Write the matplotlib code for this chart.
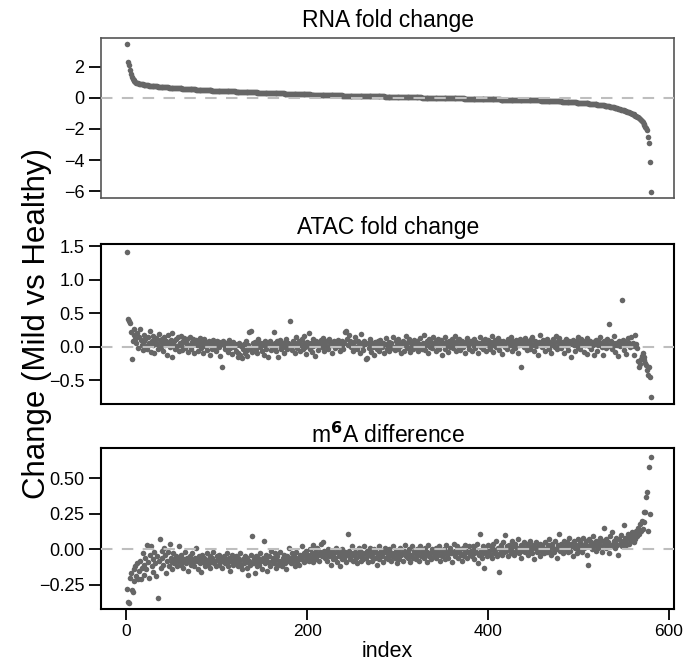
import numpy as np
import matplotlib.pyplot as plt

# RNA fold change, sorted (index 1..580)
rna = [
    3.44, 2.29, 2.12, 1.80, 1.50, 1.32, 1.21, 1.13, 1.07, 1.02, 0.98, 0.95, 0.93, 0.91, 0.89, 0.88, 0.87, 0.86, 0.85, 0.84,
    0.83, 0.82, 0.81, 0.80, 0.79, 0.79, 0.78, 0.77, 0.76, 0.76, 0.75, 0.74, 0.74, 0.73, 0.72, 0.72, 0.71, 0.71, 0.70, 0.70,
    0.69, 0.69, 0.68, 0.68, 0.67, 0.67, 0.66, 0.66, 0.65, 0.65, 0.64, 0.64, 0.63, 0.63, 0.62, 0.62, 0.62, 0.61, 0.61, 0.60,
    0.60, 0.59, 0.59, 0.58, 0.58, 0.58, 0.57, 0.57, 0.56, 0.56, 0.56, 0.55, 0.55, 0.54, 0.54, 0.54, 0.53, 0.53, 0.53, 0.52,
    0.52, 0.52, 0.51, 0.51, 0.51, 0.50, 0.50, 0.50, 0.49, 0.49, 0.49, 0.48, 0.48, 0.48, 0.47, 0.47, 0.47, 0.46, 0.46, 0.46,
    0.46, 0.45, 0.45, 0.45, 0.45, 0.44, 0.44, 0.44, 0.43, 0.43, 0.43, 0.43, 0.42, 0.42, 0.42, 0.42, 0.41, 0.41, 0.41, 0.41,
    0.40, 0.40, 0.40, 0.40, 0.39, 0.39, 0.39, 0.39, 0.38, 0.38, 0.38, 0.38, 0.37, 0.37, 0.37, 0.37, 0.36, 0.36, 0.36, 0.36,
    0.35, 0.35, 0.35, 0.35, 0.34, 0.34, 0.34, 0.34, 0.33, 0.33, 0.33, 0.33, 0.32, 0.32, 0.32, 0.32, 0.31, 0.31, 0.31, 0.31,
    0.30, 0.30, 0.30, 0.30, 0.30, 0.29, 0.29, 0.29, 0.29, 0.28, 0.28, 0.28, 0.28, 0.28, 0.27, 0.27, 0.27, 0.27, 0.26, 0.26,
    0.26, 0.26, 0.26, 0.25, 0.25, 0.25, 0.25, 0.25, 0.24, 0.24, 0.24, 0.24, 0.24, 0.23, 0.23, 0.23, 0.23, 0.23, 0.22, 0.22,
    0.22, 0.22, 0.22, 0.21, 0.21, 0.21, 0.21, 0.21, 0.20, 0.20, 0.20, 0.20, 0.20, 0.19, 0.19, 0.19, 0.19, 0.19, 0.18, 0.18,
    0.18, 0.18, 0.18, 0.17, 0.17, 0.17, 0.17, 0.17, 0.16, 0.16, 0.16, 0.16, 0.16, 0.15, 0.15, 0.15, 0.15, 0.15, 0.14, 0.14,
    0.14, 0.14, 0.14, 0.13, 0.13, 0.13, 0.13, 0.13, 0.12, 0.12, 0.12, 0.12, 0.12, 0.12, 0.11, 0.11, 0.11, 0.11, 0.11, 0.11,
    0.11, 0.11, 0.11, 0.11, 0.10, 0.10, 0.10, 0.10, 0.10, 0.10, 0.10, 0.10, 0.10, 0.10, 0.10, 0.10, 0.09, 0.09, 0.09, 0.09,
    0.09, 0.09, 0.09, 0.09, 0.09, 0.08, 0.08, 0.08, 0.08, 0.08, 0.08, 0.08, 0.07, 0.07, 0.07, 0.07, 0.07, 0.07, 0.07, 0.06,
    0.06, 0.06, 0.06, 0.06, 0.06, 0.06, 0.05, 0.05, 0.05, 0.05, 0.05, 0.05, 0.05, 0.04, 0.04, 0.04, 0.04, 0.04, 0.04, 0.04,
    0.03, 0.03, 0.03, 0.03, 0.03, 0.03, 0.02, 0.02, 0.02, 0.02, 0.02, 0.02, 0.02, 0.01, 0.01, 0.01, 0.01, 0.01, 0.01, 0.01,
    0.00, 0.00, 0.00, 0.00, 0.00, 0.00, -0.01, -0.01, -0.01, -0.01, -0.01, -0.01, -0.01, -0.02, -0.02, -0.02, -0.02, -0.02, -0.02, -0.02,
    -0.03, -0.03, -0.03, -0.03, -0.03, -0.03, -0.04, -0.04, -0.04, -0.04, -0.04, -0.04, -0.04, -0.05, -0.05, -0.05, -0.05, -0.05, -0.05, -0.05,
    -0.06, -0.06, -0.06, -0.06, -0.06, -0.06, -0.07, -0.07, -0.07, -0.07, -0.07, -0.07, -0.07, -0.08, -0.08, -0.08, -0.08, -0.08, -0.08, -0.08,
    -0.09, -0.09, -0.09, -0.09, -0.09, -0.09, -0.10, -0.10, -0.10, -0.10, -0.10, -0.10, -0.10, -0.11, -0.11, -0.11, -0.11, -0.11, -0.11, -0.11,
    -0.12, -0.12, -0.12, -0.12, -0.12, -0.12, -0.13, -0.13, -0.13, -0.13, -0.13, -0.13, -0.13, -0.14, -0.14, -0.14, -0.14, -0.14, -0.14, -0.14,
    -0.15, -0.15, -0.15, -0.15, -0.15, -0.15, -0.16, -0.16, -0.16, -0.16, -0.16, -0.16, -0.17, -0.17, -0.17, -0.17, -0.17, -0.17, -0.18, -0.18,
    -0.18, -0.18, -0.18, -0.19, -0.19, -0.19, -0.19, -0.20, -0.20, -0.20, -0.20, -0.21, -0.21, -0.21, -0.21, -0.22, -0.22, -0.22, -0.23, -0.23,
    -0.23, -0.24, -0.24, -0.24, -0.25, -0.25, -0.25, -0.26, -0.26, -0.26, -0.27, -0.27, -0.28, -0.28, -0.28, -0.29, -0.29, -0.30, -0.30, -0.31,
    -0.31, -0.32, -0.32, -0.33, -0.33, -0.34, -0.34, -0.35, -0.35, -0.36, -0.36, -0.37, -0.38, -0.38, -0.39, -0.40, -0.40, -0.41, -0.42, -0.42,
    -0.43, -0.44, -0.45, -0.45, -0.46, -0.47, -0.48, -0.49, -0.50, -0.51, -0.52, -0.53, -0.54, -0.55, -0.56, -0.58, -0.59, -0.60, -0.62, -0.63,
    -0.65, -0.66, -0.68, -0.69, -0.71, -0.73, -0.75, -0.77, -0.79, -0.81, -0.83, -0.85, -0.87, -0.89, -0.91, -0.93, -0.95, -0.98, -1.01, -1.04,
    -1.07, -1.10, -1.14, -1.18, -1.22, -1.26, -1.31, -1.36, -1.42, -1.50, -1.58, -1.66, -1.75, -1.85, -1.92, -2.05, -2.50, -2.90, -4.15, -6.05,
]

# ATAC fold change, same gene order
atac = [
    1.42, 0.42, 0.38, 0.35, 0.22, -0.18, 0.08, 0.18, 0.27, 0.12, 0.05, 0.20, -0.02, 0.15, 0.26, 0.10, 0.03, -0.05, 0.17, 0.08,
    0.11, 0.01, -0.03, 0.14, 0.06, 0.23, -0.08, 0.09, 0.16, 0.02, -0.10, 0.07, 0.13, 0.04, -0.04, 0.19, 0.10, 0.00, 0.06, 0.12,
    -0.06, 0.15, 0.03, 0.09, -0.12, 0.17, 0.05, -0.01, 0.10, 0.20, -0.15, 0.04, 0.08, -0.03, 0.12, 0.01, 0.14, -0.07, 0.06, 0.16,
    0.02, -0.05, 0.09, 0.13, -0.02, 0.05, 0.11, -0.08, 0.03, 0.15, 0.00, -0.04, 0.07, 0.12, -0.10, 0.04, 0.10, 0.02, -0.06, 0.08,
    0.13, 0.03, -0.02, 0.06, -0.09, 0.11, 0.01, 0.07, -0.05, 0.04, 0.09, -0.12, 0.02, 0.06, -0.03, 0.10, 0.00, 0.05, -0.07, 0.08,
    0.03, -0.01, 0.07, -0.14, 0.04, -0.31, 0.09, 0.02, -0.04, 0.06, 0.01, -0.08, 0.05, 0.10, -0.02, 0.03, -0.11, 0.07, 0.00, 0.04,
    -0.06, 0.02, -0.15, -0.09, 0.06, -0.12, 0.01, -0.17, -0.03, 0.04, -0.10, 0.08, -0.05, -0.14, 0.03, 0.22, -0.02, 0.24, -0.08, 0.05,
    0.00, 0.07, -0.04, 0.02, -0.09, 0.11, 0.04, -0.01, 0.06, -0.06, 0.03, -0.13, 0.08, 0.01, -0.03, 0.05, -0.15, 0.02, 0.09, -0.05,
    0.04, -0.02, 0.22, 0.06, -0.07, 0.01, 0.08, -0.16, 0.03, 0.10, -0.04, 0.05, 0.00, -0.09, 0.07, 0.02, 0.12, -0.03, 0.06, 0.04,
    0.38, 0.01, -0.05, 0.08, 0.03, -0.10, 0.06, 0.14, -0.02, 0.04, 0.09, -0.07, 0.02, 0.11, -0.04, 0.05, 0.16, 0.00, -0.11, 0.07,
    0.03, 0.20, -0.03, 0.06, -0.08, 0.12, 0.01, 0.05, -0.14, 0.09, 0.02, -0.05, 0.07, 0.04, 0.10, -0.01, 0.06, 0.13, -0.06, 0.03,
    0.08, 0.00, -0.04, 0.11, 0.05, 0.02, -0.09, 0.07, 0.03, 0.09, -0.02, 0.06, 0.04, 0.10, 0.01, -0.07, 0.05, 0.08, 0.02, -0.03,
    0.06, 0.22, 0.24, 0.12, 0.03, 0.18, 0.09, -0.01, 0.05, 0.02, -0.06, 0.07, 0.14, 0.00, -0.04, 0.08, 0.03, -0.10, 0.19, 0.05,
    0.01, -0.05, 0.09, 0.04, -0.18, -0.17, 0.06, -0.02, 0.03, 0.11, -0.08, 0.05, 0.00, -0.12, 0.07, 0.02, -0.03, 0.09, 0.04, -0.06,
    0.10, 0.02, -0.01, 0.06, -0.09, 0.04, 0.13, -0.04, 0.01, 0.07, -0.07, 0.03, 0.05, -0.02, 0.14, 0.00, -0.05, 0.08, 0.02, 0.11,
    -0.03, 0.06, 0.01, -0.10, 0.04, 0.09, -0.06, 0.03, 0.16, 0.00, -0.02, 0.07, 0.12, -0.08, 0.05, 0.02, -0.04, 0.10, 0.03, 0.06,
    -0.01, 0.08, -0.07, 0.04, 0.13, 0.01, -0.03, 0.06, 0.18, -0.05, 0.02, 0.09, 0.04, -0.09, 0.11, 0.00, 0.07, -0.02, 0.15, 0.03,
    0.05, -0.06, 0.08, 0.01, 0.12, -0.03, 0.04, 0.10, -0.12, 0.06, 0.02, 0.14, -0.04, 0.07, 0.03, -0.08, 0.09, 0.00, 0.05, 0.11,
    -0.02, 0.06, 0.16, 0.03, -0.07, 0.08, 0.01, 0.12, -0.05, 0.04, 0.09, -0.01, 0.06, 0.02, -0.10, 0.07, 0.13, 0.03, -0.03, 0.05,
    0.09, -0.06, 0.04, 0.01, 0.11, -0.02, 0.07, 0.03, -0.09, 0.06, 0.14, 0.00, 0.05, -0.04, 0.08, 0.02, 0.12, -0.07, 0.04, 0.10,
    0.01, -0.03, 0.07, 0.16, 0.03, -0.08, 0.05, 0.10, -0.01, 0.04, 0.13, -0.05, 0.08, 0.02, 0.06, -0.11, 0.09, 0.03, 0.00, 0.07,
    -0.04, 0.11, 0.05, 0.02, 0.14, -0.06, 0.08, 0.01, 0.04, -0.02, 0.10, 0.06, -0.09, 0.03, 0.12, 0.07, -0.31, 0.05, 0.09, 0.00,
    0.13, 0.04, -0.05, 0.08, 0.02, 0.06, -0.03, 0.11, 0.15, 0.03, -0.07, 0.09, 0.01, 0.05, -0.12, 0.07, 0.18, 0.02, 0.06, -0.01,
    0.10, 0.04, -0.06, 0.08, 0.12, 0.01, -0.03, 0.07, 0.05, -0.09, 0.03, 0.11, 0.06, 0.00, 0.16, -0.04, 0.08, 0.02, 0.13, 0.05,
    -0.02, 0.07, 0.03, -0.10, 0.09, 0.12, 0.01, 0.05, -0.05, 0.08, 0.04, -0.15, 0.06, 0.10, 0.02, -0.07, 0.09, 0.03, 0.14, 0.00,
    0.06, -0.04, 0.11, 0.04, 0.08, -0.08, 0.02, 0.07, 0.13, -0.11, 0.05, 0.01, 0.09, -0.03, 0.06, 0.03, -0.13, 0.08, 0.04, 0.10,
    -0.06, 0.02, 0.07, 0.15, 0.05, 0.00, -0.12, 0.09, 0.04, -0.02, 0.06, 0.11, 0.03, 0.34, 0.01, 0.08, -0.04, 0.05, 0.16, 0.02,
    -0.08, 0.06, 0.03, -0.14, 0.09, 0.01, 0.05, 0.70, 0.10, -0.05, 0.07, 0.02, -0.11, 0.04, 0.13, 0.06, 0.00, 0.15, 0.03, 0.05,
    -0.13, 0.01, 0.18, 0.04, -0.02, -0.22, -0.30, -0.26, -0.18, -0.14, -0.10, -0.16, -0.20, -0.24, -0.28, -0.35, -0.42, -0.31, -0.45, -0.75,
]

# m6A difference, same gene order
m6a = [
    -0.28, -0.37, -0.38, -0.20, -0.17, -0.29, -0.30, -0.14, -0.22, -0.12, -0.19, -0.10, -0.21, -0.15, -0.08, -0.21, -0.13, -0.03, -0.18, -0.11,
    -0.06, -0.14, 0.03, -0.09, -0.20, -0.04, 0.02, -0.12, -0.07, -0.16, -0.02, -0.10, -0.19, -0.05, -0.34, -0.08, 0.07, -0.13, -0.01, -0.06,
    -0.11, 0.01, -0.04, -0.17, -0.08, -0.02, -0.12, 0.04, -0.06, -0.09, -0.14, -0.03, -0.10, -0.07, -0.05, -0.12, -0.08, 0.02, -0.06, -0.11,
    -0.04, -0.09, -0.13, -0.07, -0.02, -0.10, -0.06, -0.15, -0.08, -0.05, -0.11, -0.07, -0.03, -0.09, -0.12, -0.06, 0.01, -0.08, -0.14, -0.05,
    -0.10, -0.07, -0.16, -0.04, -0.09, -0.06, -0.12, -0.08, -0.03, -0.11, -0.07, -0.05, -0.13, -0.09, -0.06, -0.02, -0.10, -0.08, -0.12, -0.05,
    -0.07, -0.11, -0.04, -0.09, -0.06, -0.13, -0.08, -0.05, -0.10, -0.07, -0.03, -0.12, -0.09, -0.06, -0.15, -0.08, -0.04, -0.11, -0.07, -0.10,
    -0.05, -0.09, -0.12, -0.06, -0.08, -0.03, -0.11, -0.14, -0.07, -0.10, -0.05, -0.09, -0.13, -0.06, -0.18, -0.08, -0.11, -0.04, 0.09, -0.10,
    -0.07, -0.17, -0.05, -0.12, -0.09, -0.06, -0.11, -0.03, -0.08, -0.14, -0.06, 0.06, -0.10, -0.07, -0.04, -0.15, -0.09, -0.05, -0.12, -0.01,
    -0.08, -0.06, -0.10, -0.03, -0.13, -0.07, -0.05, -0.11, -0.08, -0.02, -0.09, -0.12, -0.06, -0.04, -0.10, -0.07, -0.14, -0.05, -0.08, 0.01,
    -0.06, -0.10, -0.03, -0.08, -0.05, -0.12, -0.07, -0.02, -0.09, -0.06, -0.11, -0.04, -0.07, 0.02, -0.05, -0.09, -0.03, -0.08, -0.01, -0.06,
    -0.04, -0.08, 0.00, -0.06, -0.03, -0.09, 0.03, -0.05, -0.02, -0.07, 0.01, -0.04, -0.08, -0.02, 0.04, -0.05, -0.03, 0.05, -0.01, -0.06,
    -0.03, -0.08, 0.00, -0.05, -0.02, -0.11, -0.04, -0.01, -0.07, -0.03, -0.06, 0.01, -0.09, -0.02, -0.05, -0.12, -0.03, -0.07, 0.00, -0.04,
    -0.06, -0.02, -0.09, -0.04, 0.11, -0.01, -0.07, -0.03, -0.05, 0.02, -0.08, -0.04, -0.02, -0.06, -0.10, -0.03, 0.01, -0.05, -0.08, -0.02,
    -0.04, -0.07, 0.02, -0.03, -0.06, -0.01, -0.09, -0.04, -0.02, 0.01, -0.05, -0.08, -0.03, 0.00, -0.06, -0.02, -0.11, -0.04, 0.02, -0.07,
    -0.03, -0.01, -0.05, -0.09, -0.02, 0.01, -0.06, -0.03, -0.07, 0.00, -0.04, -0.02, -0.08, -0.05, 0.02, -0.03, -0.06, -0.01, -0.10, -0.04,
    -0.02, -0.07, 0.01, -0.04, -0.03, -0.08, -0.01, 0.03, -0.05, -0.02, -0.06, -0.03, 0.00, -0.09, -0.04, 0.02, -0.06, -0.01, -0.03, -0.07,
    0.00, -0.04, -0.02, -0.08, 0.02, -0.05, -0.01, -0.03, -0.06, 0.01, -0.04, -0.09, -0.02, 0.03, -0.05, -0.03, -0.07, 0.00, -0.02, -0.05,
    -0.03, 0.01, -0.06, -0.02, -0.04, 0.02, -0.08, -0.01, -0.05, -0.03, 0.00, -0.07, -0.02, 0.03, -0.04, -0.06, -0.01, 0.01, -0.03, -0.09,
    -0.02, 0.04, -0.05, -0.01, -0.03, 0.02, -0.06, -0.02, 0.00, -0.04, -0.08, 0.01, -0.03, -0.05, 0.03, -0.01, -0.06, -0.02, 0.02, -0.04,
    -0.01, -0.05, 0.02, -0.03, -0.07, 0.00, -0.02, 0.04, -0.10, -0.04, 0.11, -0.01, -0.06, 0.02, -0.03, -0.13, 0.01, -0.02, -0.05, 0.03,
    -0.01, -0.04, 0.02, -0.06, 0.00, 0.04, -0.03, -0.02, 0.06, -0.05, 0.01, -0.16, -0.03, 0.03, 0.00, -0.04, 0.05, -0.02, 0.10, -0.01,
    0.02, -0.05, 0.03, 0.00, -0.03, 0.06, -0.01, 0.02, -0.04, 0.04, -0.02, 0.01, 0.07, -0.03, 0.00, 0.03, -0.06, 0.02, -0.01, 0.05,
    -0.02, 0.01, 0.04, -0.04, 0.02, -0.01, 0.06, 0.00, -0.03, 0.03, -0.07, 0.01, 0.05, -0.02, 0.02, 0.00, -0.05, 0.04, -0.01, 0.03,
    0.01, -0.03, 0.05, 0.00, -0.02, 0.03, 0.07, -0.01, 0.02, -0.04, 0.04, 0.01, -0.02, 0.06, 0.00, -0.06, 0.03, 0.02, 0.11, -0.01,
    0.04, 0.01, -0.03, 0.06, 0.02, 0.00, 0.05, -0.02, 0.03, 0.08, -0.01, 0.04, 0.02, -0.05, 0.06, 0.01, 0.03, -0.03, 0.07, 0.02,
    0.00, 0.05, 0.03, -0.02, 0.08, 0.01, 0.04, 0.06, -0.04, 0.02, -0.11, 0.07, 0.03, 0.05, 0.00, 0.09, 0.02, 0.04, -0.01, 0.06,
    0.03, 0.01, 0.05, 0.08, 0.02, -0.02, 0.06, 0.15, 0.04, 0.01, 0.07, 0.03, 0.05, -0.03, 0.09, 0.02, 0.12, 0.04, 0.06, 0.01,
    0.05, 0.08, 0.03, -0.04, 0.07, 0.04, 0.10, 0.02, 0.06, 0.17, 0.05, 0.08, 0.03, 0.07, 0.11, 0.04, 0.09, 0.06, 0.12, 0.08,
    0.05, 0.10, 0.07, 0.13, 0.09, 0.15, 0.11, 0.18, 0.13, 0.20, 0.14, 0.26, 0.19, 0.26, 0.37, 0.40, 0.13, 0.58, 0.25, 0.65,
]

titles = ['RNA fold change', 'ATAC fold change', r'm$^{\mathbf{6}}$A difference']
title_pads = [8, 7, 4]
ylims = [(-6.43, 3.83), (-0.855, 1.533), (-0.42, 0.711)]
yticks = [[-6, -4, -2, 0, 2], [-0.5, 0.0, 0.5, 1.0, 1.5], [-0.25, 0.0, 0.25, 0.5]]
yfmt = ['{:.0f}', '{:.1f}', '{:.2f}']
xticks = [0, 200, 400, 600]

plt.rcParams['font.family'] = ['Liberation Sans', 'DejaVu Sans']
plt.rcParams['axes.unicode_minus'] = False

fig = plt.figure(figsize=(6.89, 6.66), dpi=100)
boxes = [(0.1466, 0.7027, 0.8320, 0.2400),
         (0.1466, 0.3934, 0.8320, 0.2402),
         (0.1466, 0.0856, 0.8320, 0.2417)]

for k, vals in enumerate([rna, atac, m6a]):
    ax = fig.add_axes(boxes[k])
    idx = np.arange(1, len(vals) + 1)
    ax.scatter(idx, vals, s=16, c='#666666', linewidths=0, zorder=2)
    ax.axhline(0, color='#bebebe', lw=1.5, dashes=(5.5, 4.5), zorder=3)
    ax.set_xlim(-28, 606)
    ax.set_ylim(*ylims[k])
    ax.set_yticks(yticks[k])
    ax.set_yticklabels([yfmt[k].format(v).replace('-', '\u2212') for v in yticks[k]])
    ax.set_title(titles[k], fontsize=16.5, pad=title_pads[k])
    ax.tick_params(axis='y', length=9, width=1.3, labelsize=13, pad=3)
    if k == 2:
        ax.set_xticks(xticks)
        ax.tick_params(axis='x', length=8, width=1.3, labelsize=12.5, pad=3)
        ax.set_xlabel('index', fontsize=15.5, labelpad=1)
    else:
        ax.set_xticks([])
    for sp in ax.spines.values():
        if k == 0:
            sp.set_color('#555555')
            sp.set_linewidth(1.2)
        else:
            sp.set_color('black')
            sp.set_linewidth(1.5)

fig.text(0.053, 0.514, 'Change (Mild vs Healthy)', rotation=90, fontsize=22.5,
         ha='center', va='center')

fig.savefig('out.png', dpi=100)
